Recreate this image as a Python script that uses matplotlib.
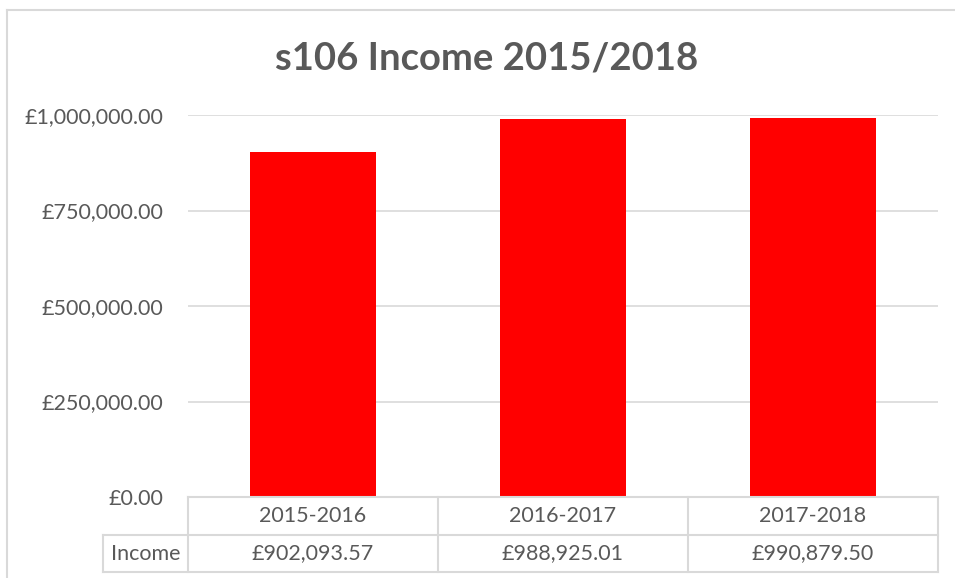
import matplotlib.pyplot as plt
from matplotlib.lines import Line2D
from matplotlib.ticker import FuncFormatter

# datos del grafico
periodos = ["2015-2016", "2016-2017", "2017-2018"]
ingresos = [902093.57, 988925.01, 990879.50]
serie = "Income"
titulo = "s106 Income 2015/2018"
ticks_y = [0, 250000, 500000, 750000, 1000000]

TEXTO = "#595959"
GRIS = "#d9d9d9"
ROJO = "#ff0000"

plt.rcParams['font.family'] = ['Lato', 'DejaVu Sans']

W, H = 955, 578
fig = plt.figure(figsize=(W / 100, H / 100), dpi=100)


def fx(px):
    return px / W


def fy(py):
    return 1 - py / H


# borde del area del grafico
fig.add_artist(Line2D([fx(7), 1], [fy(10), fy(10)], color=GRIS, lw=1.5))
fig.add_artist(Line2D([fx(7), fx(7)], [fy(10), 0], color=GRIS, lw=1.5))

ax = fig.add_axes([fx(188), fy(497), fx(938) - fx(188), fy(115) - fy(497)])
x = range(len(periodos))
ax.bar(x, ingresos, width=0.505, color=ROJO, zorder=3)
ax.set_xlim(-0.5, len(periodos) - 0.5)
ax.set_ylim(0, 1000000)
ax.set_yticks(ticks_y)
ax.yaxis.set_major_formatter(FuncFormatter(lambda v, p: f"£{v:,.2f}"))
ax.grid(axis='y', color=GRIS, lw=1.2, zorder=0)
ax.set_xticks([])
for s in ax.spines.values():
    s.set_visible(False)
ax.tick_params(axis='y', length=0, pad=18, labelsize=15.5, labelcolor=TEXTO)

fig.text(fx(487), fy(58), titulo, ha='center', va='center', fontsize=27.5,
         fontweight='bold', color=TEXTO)

# tabla de datos
x0, x_lab, x1 = 103, 188, 938
y0, y_mid, y1 = 497, 535, 572
col_w = (x1 - x_lab) / len(periodos)
lineas = [
    ([x_lab, x1], [y0, y0]),
    ([x0, x1], [y_mid, y_mid]),
    ([x0, x1], [y1, y1]),
    ([x0, x0], [y_mid, y1]),
]
for i in range(len(periodos) + 1):
    xc = x_lab + i * col_w
    lineas.append(([xc, xc], [y0, y1]))
for xs, ys in lineas:
    fig.add_artist(Line2D([fx(v) for v in xs], [fy(v) for v in ys],
                          color=GRIS, lw=1.5))

for i, (p, v) in enumerate(zip(periodos, ingresos)):
    xc = fx(x_lab + (i + 0.5) * col_w)
    fig.text(xc, fy((y0 + y_mid) / 2), p, ha='center', va='center',
             fontsize=15.5, color=TEXTO)
    fig.text(xc, fy((y_mid + y1) / 2), f"£{v:,.2f}", ha='center',
             va='center', fontsize=15.5, color=TEXTO)
fig.text(fx((x0 + x_lab) / 2), fy((y_mid + y1) / 2), serie, ha='center',
         va='center', fontsize=15.5, color=TEXTO)

fig.savefig("out.png", dpi=100)
